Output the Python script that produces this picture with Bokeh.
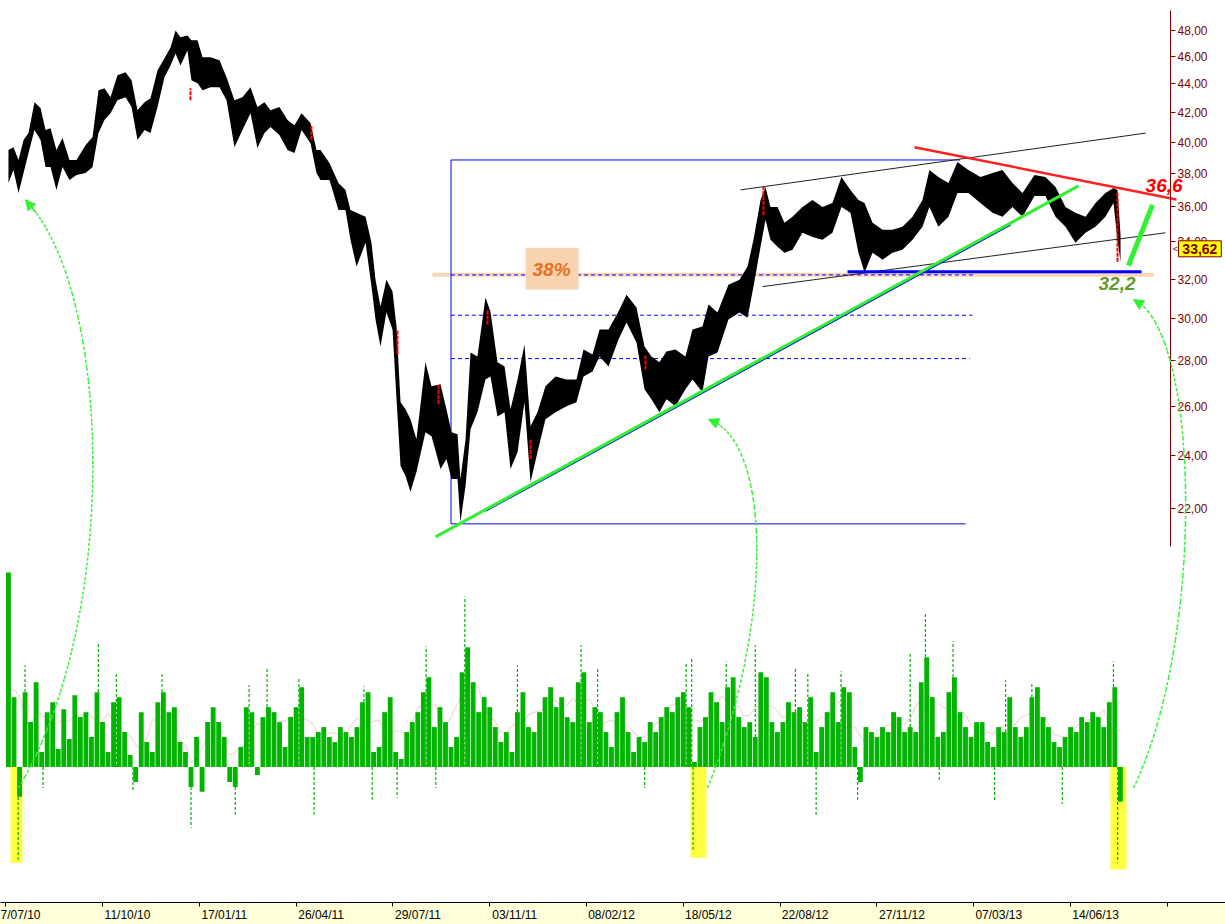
import math
import pandas as pd
from bokeh.plotting import figure
from bokeh.models import (Range1d, LinearScale, FixedTicker, Label, Arrow,
                          NormalHead, ColumnDataSource)
from bokeh.embed import file_html
from bokeh.resources import INLINE

# ---------------- axis ticks ----------------
date_ticks = [0, 70, 140, 210, 280, 350, 420, 490, 560, 630, 700, 770, 840]
date_labels = ["7/07/10", "11/10/10", "17/01/11", "26/04/11", "29/07/11", "03/11/11",
               "08/02/12", "18/05/12", "22/08/12", "27/11/12", "07/03/13", "14/06/13", ""]
price_ticks = [22, 24, 26, 28, 30, 32, 34, 36, 38, 40, 42, 44, 46, 48]
price_labels = ["22,00", "24,00", "26,00", "28,00", "30,00", "32,00", "34,00",
                "36,00", "38,00", "40,00", "42,00", "44,00", "46,00", "48,00"]

# ---------------- price envelope (bar index, high, low) ----------------
px_idx = [2.0, 5.6, 9.3, 12.9, 16.5, 20.8, 25.2, 28.8, 32.4, 36.7,
          41.1, 46.1, 51.2, 57.7, 62.8, 67.1, 71.4, 75.8, 80.8, 86.6,
          91.0, 95.3, 100.4, 104.7, 109.8, 114.8, 119.2, 122.8, 126.4, 131.4,
          134.3, 138.7, 142.3, 148.1, 154.6, 159.7, 165.4, 171.2, 177.0, 182.0,
          187.1, 191.5, 197.9, 203.8, 208.8, 213.9, 220.4, 224.7, 227.6, 234.1,
          240.6, 245.7, 249.3, 253.7, 260.2, 264.5, 267.4, 271.0, 275.3, 279.7,
          282.6, 285.5, 289.1, 292.7, 297.0, 303.5, 307.9, 314.4, 318.7, 322.4,
          326.7, 328.8, 332.5, 336.1, 341.1, 346.9, 350.5, 355.6, 360.7, 365.0,
          370.1, 375.1, 379.5, 384.5, 390.3, 397.6, 405.5, 412.7, 417.8, 424.3,
          429.4, 435.9, 443.1, 448.9, 456.1, 461.9, 466.9, 472.7, 477.8, 484.3,
          491.5, 496.6, 503.8, 508.2, 514.7, 522.6, 530.6, 536.4, 540.7, 545.8,
          549.4, 553.0, 558.1, 563.1, 568.9, 576.1, 583.4, 590.6, 597.8, 604.3,
          610.8, 616.6, 621.0, 626.8, 634.0, 641.2, 648.4, 655.7, 662.9, 667.9,
          674.4, 681.7, 688.2, 696.1, 704.8, 713.5, 720.7, 728.0, 735.2, 743.9,
          751.8, 759.1, 766.3, 773.5, 780.8, 788.0, 795.2, 801.0, 803.9, 806.1]
px_high = [39.49, 39.68, 38.86, 40.14, 40.60, 42.70, 42.29, 40.80, 40.93, 39.49,
           40.27, 38.86, 38.86, 39.81, 40.34, 43.54, 43.68, 43.05, 44.61, 44.83,
           44.25, 42.15, 42.70, 42.98, 44.98, 45.87, 46.69, 48.00, 47.46, 47.61,
           47.23, 47.23, 45.94, 45.94, 45.72, 44.47, 42.84, 43.05, 43.75, 42.36,
           42.70, 42.15, 42.36, 41.47, 41.13, 41.94, 41.27, 39.49, 39.49, 38.67,
           37.43, 37.01, 35.82, 35.65, 35.42, 33.95, 31.97, 30.60, 31.97, 31.36,
           29.62, 26.18, 25.88, 25.46, 24.65, 27.94, 26.87, 26.96, 25.88, 24.93,
           24.85, 23.10, 24.65, 28.39, 28.21, 31.05, 30.35, 27.94, 27.75, 25.88,
           27.17, 28.76, 25.17, 25.75, 26.87, 27.30, 27.17, 27.17, 28.53, 28.30,
           29.48, 29.48, 30.35, 31.20, 30.55, 28.67, 28.21, 27.94, 28.44, 28.53,
           28.21, 29.48, 29.62, 30.70, 30.30, 31.71, 31.97, 32.66, 34.12, 36.41,
           37.19, 35.99, 35.99, 35.08, 35.42, 35.99, 36.41, 35.99, 36.23, 37.79,
           37.01, 36.41, 36.23, 35.08, 34.68, 34.68, 34.85, 35.42, 36.41, 38.23,
           37.79, 37.43, 38.73, 38.23, 37.79, 38.04, 38.23, 37.43, 36.83, 37.92,
           37.79, 37.19, 35.99, 35.65, 35.42, 36.23, 36.83, 37.13, 37.01, 34.40]
px_low = [37.43, 38.23, 36.83, 38.04, 39.30, 40.80, 40.14, 38.42, 38.42, 37.01,
          38.42, 37.61, 37.92, 38.04, 38.42, 40.60, 41.47, 41.94, 42.84, 43.05,
          42.36, 40.14, 40.80, 40.60, 42.36, 44.47, 45.34, 46.23, 45.34, 46.46,
          44.25, 44.04, 43.54, 43.75, 43.75, 42.84, 39.68, 40.80, 41.94, 39.62,
          40.60, 41.00, 40.47, 39.49, 39.30, 40.80, 39.94, 38.04, 37.61, 37.61,
          35.82, 35.82, 34.12, 32.66, 33.95, 31.61, 29.96, 28.67, 30.30, 29.48,
          26.31, 23.59, 23.21, 22.62, 23.36, 24.93, 24.77, 23.48, 23.86, 23.10,
          23.10, 21.53, 22.84, 25.05, 25.75, 27.17, 27.30, 25.58, 25.75, 23.48,
          24.13, 26.18, 22.99, 24.13, 25.46, 25.75, 26.01, 26.18, 27.30, 27.53,
          28.21, 27.75, 29.00, 29.81, 28.86, 26.74, 26.31, 25.75, 26.31, 26.01,
          26.74, 27.17, 26.61, 28.21, 28.39, 29.96, 30.30, 30.05, 31.61, 33.73,
          35.25, 34.12, 33.73, 33.41, 33.57, 34.51, 34.28, 34.12, 34.51, 35.99,
          35.65, 33.41, 32.34, 33.41, 33.03, 33.41, 33.57, 34.12, 34.85, 35.99,
          34.85, 35.42, 36.83, 36.83, 36.23, 35.65, 35.42, 35.99, 35.42, 36.65,
          36.65, 35.42, 34.85, 33.95, 34.51, 34.85, 35.42, 36.23, 34.12, 32.92]
last_close = 33.62

# red (falling) bars visible inside the price band
red_idx = [133.6, 221.1, 283.3, 312.9, 348.4, 379.5, 462.6, 547.9, 803.9]
red_top = [43.68, 41.13, 29.48, 26.96, 30.45, 24.65, 28.30, 37.19, 36.89]
red_bot = [42.84, 40.14, 28.30, 26.10, 29.72, 23.86, 27.62, 35.53, 32.92]

# ---------------- lower indicator (every 4 bars) ----------------
vol = [19.5, 7.0, -3.0, 7.5, 4.5, 8.5, 1.5, 5.5, 6.5, 1.8,
       5.8, 2.8, 7.2, 5.0, 5.5, 3.0, 7.5, 4.5, 1.5, 6.5,
       7.0, 3.5, 1.2, -1.5, 5.5, 2.5, 1.5, 6.5, 7.5, 5.5,
       6.0, 2.5, 1.5, -2.0, 3.0, -2.5, 4.5, 6.0, 4.5, 3.0,
       -1.5, -2.0, 2.0, 6.0, 5.5, -0.8, 5.0, 6.0, 5.5, 4.5,
       2.0, 5.0, 6.0, 8.0, 3.0, 3.0, 3.5, 4.0, 3.0, 2.5,
       4.0, 3.5, 3.0, 4.0, 6.5, 7.5, 1.5, 2.0, 5.5, 7.0,
       1.5, 0.8, 3.5, 4.5, 5.5, 7.5, 9.0, 4.0, 6.0, 4.5,
       2.0, 3.0, 9.5, 12.0, 8.5, 5.5, 7.0, 6.0, 4.0, 2.5,
       3.5, 1.5, 5.5, 7.5, 4.0, 3.5, 5.5, 7.0, 8.0, 6.0,
       7.0, 5.0, 4.5, 8.5, 9.5, 4.5, 6.0, 5.5, 3.5, 2.0,
       5.5, 7.0, 3.5, 1.5, 3.0, 2.5, 4.5, 3.5, 5.0, 6.0,
       5.5, 7.0, 7.5, 6.0, 0.5, 4.0, 5.0, 7.5, 6.5, 4.5,
       8.0, 9.0, 5.0, 4.0, 4.5, 3.0, 9.5, 9.0, 4.5, 3.5,
       4.5, 6.5, 5.5, 6.0, 4.5, 7.0, 1.5, 4.0, 5.5, 7.5,
       4.5, 8.0, 7.5, 2.0, -1.5, 4.0, 3.5, 3.0, 4.0, 3.5,
       5.5, 5.0, 3.5, 4.0, 3.5, 8.5, 11.0, 7.0, 3.0, 3.5,
       7.5, 9.0, 5.5, 4.0, 3.0, 4.5, 4.5, 2.5, 2.0, 4.0,
       3.5, 7.0, 4.0, 3.0, 4.0, 7.0, 8.0, 5.0, 4.0, 2.5,
       2.0, 3.0, 4.0, 3.5, 5.0, 4.5, 5.5, 5.0, 4.0, 6.5,
       8.0, -3.5]
vol_idx = list(range(2, 2 + 4 * len(vol), 4))

spike_idx = [14, 67, 80, 113, 176, 189, 212, 259, 304, 332,
             370, 416, 428, 492, 496, 521, 542, 571, 580, 604,
             654, 665, 685, 723, 742, 801,
             9, 27, 92, 134, 166, 223, 265, 283, 311, 462,
             497, 586, 616, 675, 715, 764, 804]
spike_val = [10.2, 12.4, 9.3, 9.4, 8.2, 9.9, 9.0, 8.1, 12.1, 17.1,
             10.2, 12.2, 10.0, 10.4, 10.9, 10.6, 12.2, 9.9, 9.4, 9.6,
             11.4, 15.4, 12.6, 8.7, 8.5, 10.6,
             -9.3, -2.1, -2.4, -6.1, -4.8, -4.8, -3.3, -3.1, -2.1, -2.1,
             -8.3, -4.8, -3.3, -1.5, -3.4, -3.7, -9.6]

hl_left = [3.5, 495.2, 798.8]
hl_right = [12.1, 506.7, 810.4]
hl_depth = [-9.6, -9.1, -10.3]

# ---------------- drawing annotations (bar index / price) ----------------
box_start = 322
swing_high, swing_low = 38.86, 21.47
top_end, bottom_end = 690, 694
fib_levels = [32.22, 30.17, 28.11]
fib_ends = [701, 699, 697]
level_38 = 32.23
level_38_span = [308.6, 830.0]
support = 32.39
support_span = [608.7, 821.3]
trend_x, trend_y = [310.8, 775.7], [21.02, 37.25]
trend_edge_x, trend_edge_y = [346.9, 726.5], [21.93, 34.97]
resist_x, resist_y = [657.1, 846.5], [39.68, 36.44]
chan_up_x, chan_up_y = [531.3, 824.2], [37.01, 40.60]
chan_lo_x, chan_lo_y = [547.2, 838.6], [31.61, 34.51]
stroke_x, stroke_y = [811.8, 829.2], [32.71, 36.12]
pct_box = dict(left=375.9, right=414.2, bottom=31.46, top=33.68)

arrow_p0 = [(9.3, 13.96), (507.5, 13.96), (815.5, 13.96)]
arrow_c0 = [(83.0, 18.40), (556.6, 18.40), (867.6, 17.81)]
arrow_c1 = [(77.2, 31.46), (553.0, 24.65), (863.9, 29.48)]
arrow_p3 = [(14.3, 36.41), (508.2, 25.46), (815.5, 30.95)]

price_axis_at = 842.2

# ---------------- figure ----------------
MAROON = "#800000"
GREEN = "#00B400"
LIME = "#33F033"
FONT = "Liberation Sans"
NB = "\u00a0"


def left_aligned(txt, first=False):
    # axis labels are centred on their tick; pad so the text starts at the tick
    if not txt or first:
        return txt
    return NB * (len(txt) * 2 - 1) + txt


p = figure(width=1225, height=924, output_backend="svg", toolbar_location=None,
           x_range=Range1d(-3.76, 882.0), y_range=Range1d(11.58, 50.40),
           y_axis_type="log", y_axis_location="right",
           min_border_left=0, min_border_top=0, min_border_right=0,
           min_border_bottom=19)
p.outline_line_color = None
p.grid.visible = False
p.background_fill_color = "white"
p.border_fill_color = "white"
p.extra_y_ranges = {"vol": Range1d(-13.6, 76.9)}
p.extra_y_scales = {"vol": LinearScale()}

xa = p.xaxis[0]
xa.ticker = FixedTicker(ticks=date_ticks, minor_ticks=[])
xa.major_label_overrides = {t: left_aligned(l, i == 0)
                            for i, (t, l) in enumerate(zip(date_ticks, date_labels))}
xa.major_tick_in = 0
xa.major_tick_out = 4
xa.major_label_standoff = 1
xa.major_label_text_font = FONT
xa.major_label_text_font_size = "12px"
xa.major_label_text_color = "black"
xa.axis_line_color = "black"
xa.major_tick_line_color = "black"
try:
    xa.background_fill_color = "#FFFFD9"
except Exception:
    pass

ya = p.yaxis[0]
ya.fixed_location = price_axis_at
ya.ticker = FixedTicker(ticks=price_ticks, minor_ticks=[])
ya.major_label_overrides = dict(zip(price_ticks, price_labels))
ya.bounds = (20.68, 49.59)
ya.axis_line_color = MAROON
ya.major_tick_line_color = MAROON
ya.minor_tick_line_color = None
ya.major_tick_in = 0
ya.major_tick_out = 5
ya.major_label_standoff = 2
ya.major_label_text_color = MAROON
ya.major_label_text_font = FONT
ya.major_label_text_font_size = "12px"

# lower panel
p.quad(left=hl_left, right=hl_right, bottom=hl_depth, top=[0] * len(hl_left),
       fill_color="#FFFF40", line_color=None, y_range_name="vol")
ma = pd.Series(vol).rolling(5, center=True, min_periods=1).mean()
p.line(vol_idx, list(ma), line_color="#F7DADA", line_width=1.3, y_range_name="vol")
p.vbar(x=vol_idx, top=vol, bottom=0, width=3.5, fill_color=GREEN,
       line_color=None, y_range_name="vol")
p.segment(x0=spike_idx, y0=[0] * len(spike_idx), x1=spike_idx, y1=spike_val,
          line_color=GREEN, line_width=1.2, line_dash="3 2", y_range_name="vol")

# levels
p.line(level_38_span, [level_38, level_38], line_color="#F9D5B7", line_width=4)
for lvl, end in zip(fib_levels, fib_ends):
    p.line([box_start, end], [lvl, lvl], line_color="#0000FF", line_width=1,
           line_dash="4 3")
p.line([box_start, box_start], [swing_low, swing_high], line_color="#0000FF", line_width=1)
p.line([box_start, top_end], [swing_high, swing_high], line_color="#0000FF", line_width=1)
p.line([box_start, bottom_end], [swing_low, swing_low], line_color="#0000FF", line_width=1)
p.quad(**{k: [v] for k, v in pct_box.items()}, fill_color="#F9D3B0", line_color=None)

# price
p.varea(x=px_idx, y1=px_low, y2=px_high, fill_color="black")
p.segment(x0=red_idx, y0=red_bot, x1=red_idx, y1=red_top, line_color="#FF0000",
          line_width=2, line_dash="4 1")

# lines
p.line(chan_up_x, chan_up_y, line_color="#222222", line_width=1)
p.line(chan_lo_x, chan_lo_y, line_color="#222222", line_width=1)
p.line(support_span, [support, support], line_color="#0000FF", line_width=3)
p.line(trend_edge_x, trend_edge_y, line_color="#0000FF", line_width=2)
p.line(trend_x, trend_y, line_color=LIME, line_width=3)
p.line(resist_x, resist_y, line_color="#FF2020", line_width=2.5)
p.line(stroke_x, stroke_y, line_color=LIME, line_width=5)

# curved arrows
for P0, C0, C1, P3 in zip(arrow_p0, arrow_c0, arrow_c1, arrow_p3):
    xs, ys = [], []
    n = 48
    for k in range(n + 1):
        t = k / n
        a, b, c, d = (1 - t) ** 3, 3 * (1 - t) ** 2 * t, 3 * (1 - t) * t ** 2, t ** 3
        xs.append(a * P0[0] + b * C0[0] + c * C1[0] + d * P3[0])
        ly = (a * math.log(P0[1]) + b * math.log(C0[1]) + c * math.log(C1[1])
              + d * math.log(P3[1]))
        ys.append(math.exp(ly))
    src = ColumnDataSource(dict(x0=xs[:-1], y0=ys[:-1], x1=xs[1:], y1=ys[1:]))
    p.add_layout(Arrow(end=None, source=src, x_start="x0", y_start="y0",
                       x_end="x1", y_end="y1", line_color=LIME, line_width=1.5,
                       line_dash="3 2"))
    p.add_layout(Arrow(end=NormalHead(size=10, fill_color=LIME, line_color=LIME),
                       x_start=xs[-3], y_start=ys[-3], x_end=xs[-1], y_end=ys[-1],
                       line_color=LIME, line_width=1.5))

# texts
p.add_layout(Label(x=394.7, y=32.5, text="38%", text_align="center",
                   text_baseline="middle", text_font=FONT, text_font_size="19px",
                   text_font_style="bold italic", text_color="#E8701A"))
p.add_layout(Label(x=824.2, y=37.25, text="36,6", text_align="left",
                   text_baseline="middle", text_font=FONT, text_font_size="19px",
                   text_font_style="bold italic", text_color="#FF0000"))
p.add_layout(Label(x=790.2, y=31.76, text="32,2", text_align="left",
                   text_baseline="middle", text_font=FONT, text_font_size="19px",
                   text_font_style="bold italic", text_color="#629A30"))
p.add_layout(Label(x=848.0, y=last_close, text=NB + "33,62" + NB, text_align="left",
                   text_baseline="middle", text_font=FONT, text_font_size="14px",
                   text_font_style="bold", text_color=MAROON,
                   background_fill_color="#FFFF00", border_line_color=MAROON))
p.add_layout(Label(x=843.8, y=last_close, text="<", text_align="left",
                   text_baseline="middle", text_font=FONT, text_font_size="9px",
                   text_color=MAROON))

html = file_html(p, INLINE, title="chart")
open("out.html", "w").write(html)
